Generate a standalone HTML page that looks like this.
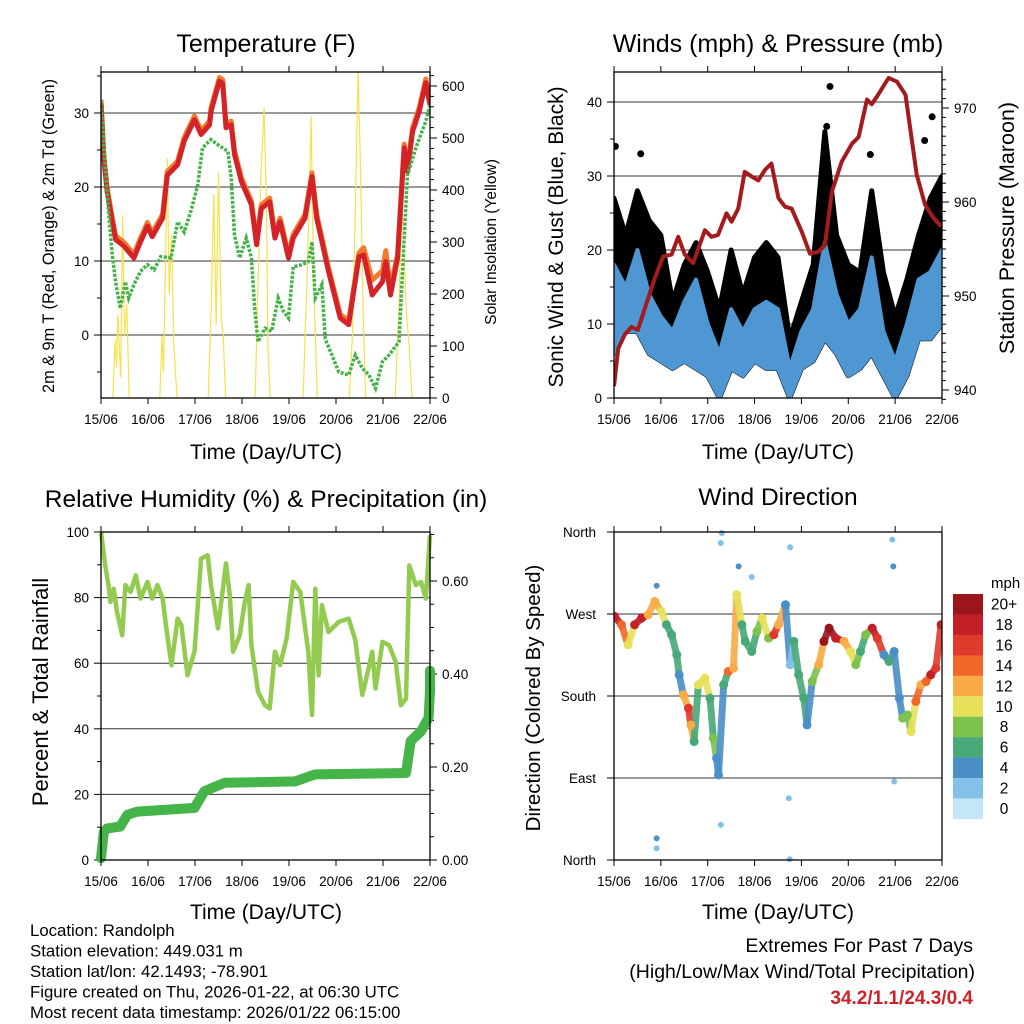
<!DOCTYPE html>
<html><head><meta charset="utf-8"><style>
html,body{margin:0;padding:0;background:#fff;}
svg{display:block;font-family:"Liberation Sans",sans-serif;}
</style></head><body>
<svg id="c" width="1024" height="1024" viewBox="0 0 1024 1024"></svg>
<script>
// ---------- DATA ----------
const dayLabels = ["15/06","16/06","17/06","18/06","19/06","20/06","21/06","22/06"];
// Temperature
const tDays = [0,.06,.13,.24,.31,.49,.70,.84,.99,1.09,1.31,1.41,1.63,1.77,1.99,2.13,2.31,2.34,2.52,2.59,2.66,2.77,2.84,2.99,3.20,3.31,3.41,3.59,3.70,3.81,3.99,4.09,4.34,4.49,4.59,4.84,5.09,5.27,5.49,5.59,5.77,5.99,6.06,6.16,6.31,6.45,6.52,6.63,6.77,6.91,7.0];
const temp2m = [31.3,23.9,19.4,15.3,12.9,12,10.4,12.6,14.7,13.3,15.8,21.6,23,26.2,29.1,27.1,28.4,30.2,34.3,34,28,28.4,24.4,20.7,17.6,12.2,17.1,18,13.1,15.3,10.4,13.1,15.8,21.4,15.8,8.6,2.3,1.4,10.6,10.8,5.4,7.2,9.9,5.4,10.4,25.3,22.1,27.5,30.2,34.1,31.1];
const temp9m = [31.8,24.4,19.9,15.8,13.4,12.5,10.9,13.1,15.2,13.8,16.3,22.1,23.5,26.7,29.6,27.6,28.9,30.7,34.8,34.5,28.5,28.9,24.9,21.2,18.1,12.7,17.6,18.5,13.6,15.8,10.9,13.6,16.3,21.9,16.3,9.1,2.8,1.9,11.1,11.8,7.4,8.7,11.4,6.4,10.9,25.8,22.6,28,30.7,34.6,31.6];
const tdDays = [0,.09,.16,.24,.31,.41,.52,.59,.70,.84,.99,1.13,1.27,1.49,1.63,1.77,1.91,2.06,2.16,2.34,2.49,2.70,2.77,2.84,2.95,3.09,3.20,3.27,3.34,3.49,3.63,3.77,3.88,3.99,4.09,4.27,4.41,4.49,4.56,4.70,4.77,5.06,5.27,5.41,5.56,5.70,5.84,5.99,6.13,6.34,6.52,6.70,6.91,7.0];
const dewpt = [31.3,23,16.7,10.8,7.2,3.6,7.2,5,6.8,8.6,9.5,8.8,10.6,10.4,15.3,13.9,16.7,20.3,25.3,26.4,25.7,24.8,21.2,13.5,10.4,13.1,10.4,3.6,-0.9,0.9,0.5,5,3.2,2.3,9.2,9.5,9.9,12.6,5,6.8,-0.5,-5,-5.4,-2.7,-4.5,-5.4,-7.2,-3.6,-2.7,-0.9,21.6,25.3,28.9,31.1];
const solarDays = [0,.25,.3,.33,.36,.42,.46,.5,.55,.6,1.25,1.3,1.33,1.41,1.45,1.5,1.55,1.62,2.28,2.35,2.4,2.45,2.5,2.56,2.6,2.65,3.28,3.33,3.4,3.47,3.52,3.55,3.6,4.3,4.38,4.44,4.47,4.52,4.6,5.28,5.35,5.42,5.47,5.52,5.58,5.63,6.26,6.33,6.4,6.5,6.55,6.62,7];
const solar = [0,0,110,60,160,40,352,120,180,0,0,120,50,461,200,314,100,0,0,180,392,140,433,150,120,0,0,180,420,558,380,100,0,0,220,420,542,250,0,0,120,400,628,450,150,0,0,150,380,160,110,0,0];
// Winds
const wDays = [0,.25,.5,.75,1,1.25,1.5,1.75,2,2.25,2.5,2.75,3,3.25,3.5,3.75,4,4.25,4.5,4.75,5,5.25,5.5,5.75,6,6.25,6.5,6.75,7];
const windLow = [6,9,9,6,5,4,5,4,3,0,4,3,5,4,4,0,4,5,8,6,3,4,6,3,0,3,8,8,10];
const windHigh = [18,15,20,14,11,9,13,16,10,6,12,9,12,13,12,4,9,12,21,14,10,12,19,9,5,10,16,17,20];
const gustHigh = [27,22,28,24,22,13,18,21,17,12,20,14,19,21,19,8,13,18,36,22,18,17,28,17,11,16,22,27,30];
const gustOutDays = [0.03,0.57,4.54,4.61,5.47,6.63,6.79];
const gustOut = [34,33,36.7,42.1,32.9,34.8,38];
const pDays = [0,.09,.23,.37,.51,.66,.87,1.05,1.23,1.37,1.51,1.69,1.94,2.08,2.22,2.40,2.51,2.65,2.79,2.94,3.08,3.22,3.36,3.51,3.65,3.79,4.01,4.18,4.36,4.50,4.65,4.86,5.08,5.22,5.40,5.50,5.61,5.86,6.04,6.22,6.46,6.64,6.82,6.98];
const pressure = [940.4,944.4,945.9,946.7,946.4,948.7,951.9,954.2,954.4,956.3,954.4,953.5,957,956.3,956.5,958.8,957.9,959.3,963.2,962.7,962.3,963.4,964.1,960.4,959.5,959.3,956.8,954.5,954.7,955.4,961.1,964.3,966.2,966.9,970.9,970.4,971.2,973.2,972.8,971.4,962.9,959.7,958.3,957.4];
// RH & precip
const rhDays = [0,.09,.16,.2,.27,.34,.45,.52,.63,.74,.84,.99,1.09,1.2,1.31,1.41,1.5,1.63,1.71,1.84,1.99,2.13,2.27,2.34,2.49,2.66,2.74,2.81,2.95,3.06,3.14,3.2,3.34,3.49,3.59,3.70,3.81,3.95,4.09,4.24,4.41,4.49,4.56,4.63,4.70,4.84,5.06,5.27,5.41,5.56,5.66,5.77,5.84,5.99,6.13,6.27,6.38,6.49,6.56,6.70,6.81,6.91,7.0];
const rh = [100,89.8,83.8,78.7,82.7,75.6,68.5,83.8,81.7,86.8,79.7,84.8,79.7,83.8,79.7,68.5,59.4,73.6,71.6,56.3,63.5,91.9,92.9,83.8,70.6,90.4,80.7,63.5,68.5,78.7,83.8,65.5,51.3,47.2,46.2,63.5,59.4,67.5,84.8,81.7,63.5,44.2,82.7,56.3,77.7,69.5,72.6,73.6,67,50.3,56.3,63.5,52.3,66.5,65.5,60.4,47.2,49.2,89.8,83.8,84.8,79.7,99];
const prDays = [0,.06,.13,.41,.56,.77,1.99,2.2,2.63,4.13,4.56,6.49,6.59,6.81,6.97,7.0,7.0];
const precip = [0.004,0.06,0.068,0.072,0.097,0.104,0.112,0.148,0.166,0.169,0.184,0.187,0.256,0.277,0.306,0.364,0.407];
// Wind direction
const dDays = [.01,.16,.30,.44,.59,.73,.87,1.01,1.12,1.23,1.34,1.39,1.48,1.59,1.64,1.71,1.80,1.94,2.05,2.12,2.19,2.23,2.34,2.44,2.55,2.62,2.73,2.80,2.94,3.05,3.16,3.30,3.41,3.51,3.66,3.76,3.84,3.94,4.05,4.12,4.23,4.37,4.48,4.59,4.73,4.91,5.05,5.16,5.26,5.37,5.51,5.62,5.76,5.87,5.98,6.09,6.16,6.26,6.34,6.44,6.55,6.66,6.76,6.87,6.98];
const dirDeg = [267.4,258.2,236.2,258.2,265.5,269.2,283.8,272.8,258.2,247.2,225.2,203.3,181.3,166.6,148.3,130,192.3,199.6,177.6,133.7,111.7,93.4,192.3,206.9,210.6,291.2,258.2,239.9,228.9,250.9,265.5,243.5,247.2,258.2,280.2,214.3,239.9,203.3,177.6,148.3,195.9,214.3,239.9,254.5,243.5,239.9,228.9,214.3,228.9,247.2,254.5,243.5,225.2,217.9,228.9,177.6,155.7,159.3,141,174,192.3,195.9,203.3,210.6,258.2];
const dirSpd = [18,14,10,18,18,12,12,10,6,6,5,4,12,16,12,6,10,10,6,8,4,4,6,14,12,10,6,6,6,8,10,8,16,12,4,2,6,6,6,4,8,12,20,20,18,12,10,8,6,8,18,16,4,6,4,4,8,8,10,14,12,14,18,16,18];
const outDays = [2.3,2.28,3.76,5.94,5.96,5.98,3.73,2.28,.91,.91,3.75,2.66,2.94,.91];
const outDeg = [358.9,347.9,343.2,351.6,322.3,86.1,67.8,38.5,23.8,12.8,0.8,322.3,310.6,301];
const outSpd = [1,1,1,1,3,1,1,1,3,1,1,4,2,3];
const cbLabels = ["20+","18","16","14","12","10","8","6","4","2","0"];
const cbColors = ["#9a161b","#c21f28","#df3a2b","#f1672a","#f8ab47","#e6e05a","#7cc24d","#48a877","#4a8fc7","#84c1e9","#c3e7f8"];

// ---------- HELPERS ----------
const NS="http://www.w3.org/2000/svg";
const svg=document.getElementById('c');
function mk(tag,attrs,parent){const e=document.createElementNS(NS,tag);for(const k in attrs)e.setAttribute(k,attrs[k]);(parent||svg).appendChild(e);return e;}
function txt(s,x,y,size,anchor,parent,extra){const e=mk('text',Object.assign({x:x,y:y,'font-size':size,'text-anchor':anchor||'middle',fill:'#000'},extra||{}),parent);e.textContent=s;return e;}
function colorFor(s){let i=Math.min(10,Math.max(0,Math.round(s/2)));return cbColors[10-i];}
function path(xs,ys,fx,fy){return xs.map((d,i)=>(i?'L':'M')+fx(d).toFixed(1)+','+fy(ys[i]).toFixed(1)).join('');}

function frame(g,x0,x1,y0,y1,name){
  for(let d=0;d<=7;d++){const x=x0+(x1-x0)*d/7;
    mk('line',{x1:x,y1:y0,x2:x,y2:y0-6,stroke:'#000','stroke-width':1},g);
    mk('line',{x1:x,y1:y1,x2:x,y2:y1+6,stroke:'#000','stroke-width':1},g);
    const t=txt(dayLabels[d],x,y1+26,13.5,'middle',g);
    
    
  }
  const r=mk('rect',{x:x0,y:y0,width:x1-x0,height:y1-y0,fill:'none',stroke:'#000','stroke-width':1.3},g);
  
  
}
function hgrid(g,x0,x1,y){mk('line',{x1:x0,y1:y,x2:x1,y2:y,stroke:'#333','stroke-width':1},g);}
function ytick(g,x,y,dir,len){mk('line',{x1:x,y1:y,x2:x+dir*len,y2:y,stroke:'#000','stroke-width':1},g);}

// ================= PANEL 1: Temperature =================
{
const g=mk('g',{});


const X0=101,X1=430,Y0=72,Y1=398;
const x=d=>X0+(X1-X0)*d/7, y=t=>335-t*7.4, ys=v=>398-v*0.52;
const cp=mk('clipPath',{id:'cp1'},g);mk('rect',{x:X0,y:Y0,width:X1-X0,height:Y1-Y0},cp);
for(const v of [0,10,20,30]){hgrid(g,X0,X1,y(v));ytick(g,X0,y(v),-1,7);const t=txt(String(v),X0-12,y(v)+5,13.5,'end',g);}
for(const v of [-5,5,15,25,35])ytick(g,X0,y(v),-1,4);
for(let v=0;v<=620;v+=20)ytick(g,X1,ys(v),1,v%100?4:7);
for(let v=0;v<=600;v+=100){const t=txt(String(v),X1+12,ys(v)+5,13.5,'start',g);}
const pg=mk('g',{'clip-path':'url(#cp1)'},g);
const s=mk('path',{d:path(solarDays,solar,x,ys),fill:'none',stroke:'#f9e04c','stroke-width':1.2},pg);

const o=mk('path',{d:path(tDays,temp9m,x,y),fill:'none',stroke:'#f07a2e','stroke-width':5,'stroke-linejoin':'round'},pg);

const r=mk('path',{d:path(tDays,temp2m,x,y),fill:'none',stroke:'#d42328','stroke-width':5,'stroke-linejoin':'round'},pg);

const gr=mk('path',{d:path(tdDays,dewpt,x,y),fill:'none',stroke:'#46b34a','stroke-width':3.5,'stroke-dasharray':'3 1.5'},pg);

frame(g,X0,X1,Y0,Y1,'temperature');
const t1=txt('Temperature (F)',266,52,25,'middle',g);
const t2=txt('Time (Day/UTC)',266,459,21,'middle',g);
const t3=txt('2m & 9m T (Red, Orange) & 2m Td (Green)',0,0,16.3,'middle',g,{transform:'translate(54,236) rotate(-90)'});
const t4=txt('Solar Insolation (Yellow)',0,0,15.5,'middle',g,{transform:'translate(496,242) rotate(-90)'});
}

// ================= PANEL 2: Winds =================
{
const g=mk('g',{});


const X0=614,X1=942,Y0=72,Y1=398;
const x=d=>X0+(X1-X0)*d/7, y=w=>398-w*7.4, yp=p=>390-(p-940)*9.4;
const cp=mk('clipPath',{id:'cp2'},g);mk('rect',{x:X0,y:Y0,width:X1-X0,height:Y1-Y0},cp);
for(const v of [0,10,20,30,40]){if(v)hgrid(g,X0,X1,y(v));ytick(g,X0,y(v),-1,7);const t=txt(String(v),X0-12,y(v)+5,13.5,'end',g);}
for(const v of [5,15,25,35])ytick(g,X0,y(v),-1,4);
for(let v=939;v<=973;v++)ytick(g,X1,yp(v),1,v%10?4:7);
for(const v of [940,950,960,970]){const t=txt(String(v),X1+12,yp(v)+5,13.5,'start',g);}
const pg=mk('g',{'clip-path':'url(#cp2)'},g);
let gd=wDays.map((d,i)=>(i?'L':'M')+x(d)+','+y(gustHigh[i])).join('')+wDays.slice().reverse().map((d,j)=>{const i=wDays.length-1-j;return 'L'+x(d)+','+y(windLow[i]);}).join('')+'Z';
const ga=mk('path',{d:gd,fill:'#000',stroke:'#000','stroke-width':5,'stroke-linejoin':'round'},pg);

gustOutDays.forEach((d,i)=>{const c=mk('circle',{cx:x(d),cy:y(gustOut[i]),r:3.5,fill:'#000'},pg);
 
 });
let bd=wDays.map((d,i)=>(i?'L':'M')+x(d)+','+y(windHigh[i])).join('')+wDays.slice().reverse().map((d,j)=>{const i=wDays.length-1-j;return 'L'+x(d)+','+y(windLow[i]);}).join('')+'Z';
const ba=mk('path',{d:bd,fill:'#4f97d2',stroke:'#4f97d2','stroke-width':4,'stroke-linejoin':'round'},pg);

const pl=mk('path',{d:path(pDays,pressure,x,yp),fill:'none',stroke:'#a31b1d','stroke-width':4,'stroke-linejoin':'round'},pg);

frame(g,X0,X1,Y0,Y1,'winds');
const t1=txt('Winds (mph) & Pressure (mb)',778,52,25,'middle',g);
const t2=txt('Time (Day/UTC)',778,459,21,'middle',g);
const t3=txt('Sonic Wind & Gust (Blue, Black)',0,0,21,'middle',g,{transform:'translate(563,237) rotate(-90)'});
const t4=txt('Station Pressure (Maroon)',0,0,21.5,'middle',g,{transform:'translate(1014,228) rotate(-90)'});
}

// ================= PANEL 3: RH & Precip =================
{
const g=mk('g',{});


const X0=101,X1=430,Y0=532,Y1=860;
const x=d=>X0+(X1-X0)*d/7, y=v=>860-v*3.28, yp=v=>860-v*465;
const cp=mk('clipPath',{id:'cp3'},g);mk('rect',{x:X0-6,y:Y0-6,width:X1-X0+12,height:Y1-Y0+12},cp);
for(const v of [0,20,40,60,80,100]){if(v&&v<100)hgrid(g,X0,X1,y(v));ytick(g,X0,y(v),-1,7);const t=txt(String(v),X0-12,y(v)+5,13.5,'end',g);}
for(const v of [10,30,50,70,90])ytick(g,X0,y(v),-1,4);
for(let v=0;v<=0.7001;v+=0.05)ytick(g,X1,yp(v),1,Math.round(v*100)%20?4:7);
for(const v of [0,0.2,0.4,0.6]){const t=txt(v.toFixed(2),X1+12,yp(v)+5,13.5,'start',g);}
const pg=mk('g',{'clip-path':'url(#cp3)'},g);
const rl=mk('path',{d:path(rhDays,rh,x,y),fill:'none',stroke:'#92cb50','stroke-width':4.5,'stroke-linejoin':'round'},pg);

const pr=mk('path',{d:path(prDays,precip,x,yp),fill:'none',stroke:'#45b549','stroke-width':10,'stroke-linejoin':'round','stroke-linecap':'round'},pg);

frame(g,X0,X1,Y0,Y1,'humidity');
const t1=txt('Relative Humidity (%) & Precipitation (in)',266,507,24.5,'middle',g);
const t2=txt('Time (Day/UTC)',266,919,21,'middle',g);
const t3=txt('Percent & Total Rainfall',0,0,22,'middle',g,{transform:'translate(48,692) rotate(-90)'});
}

// ================= PANEL 4: Wind direction =================
{
const g=mk('g',{});


const X0=614,X1=942,Y0=532,Y1=860;
const x=d=>X0+(X1-X0)*d/7, y=deg=>532+(360-deg)/360*328;
const names=["North","West","South","East","North"];
[360,270,180,90,0].forEach((v,i)=>{if(i&&i<4)hgrid(g,X0,X1,y(v));ytick(g,X0,y(v),-1,7);const t=txt(names[i],X0-18,y(v)+5,13.5,'end',g);});
const cp=mk('clipPath',{id:'cp4'},g);mk('rect',{x:X0,y:Y0-2,width:X1-X0,height:Y1-Y0+4},cp);
const pg=mk('g',{'clip-path':'url(#cp4)'},g);
for(let i=0;i<dDays.length-1;i++){
  const l=mk('line',{x1:x(dDays[i]),y1:y(dirDeg[i]),x2:x(dDays[i+1]),y2:y(dirDeg[i+1]),stroke:colorFor(dirSpd[i]),'stroke-width':7,'stroke-linecap':'round',opacity:0.9},pg);
  
  
}
dDays.forEach((d,i)=>{const c=mk('circle',{cx:x(d),cy:y(dirDeg[i]),r:4.5,fill:colorFor(dirSpd[i])},pg);
  
  });
outDays.forEach((d,i)=>{const c=mk('circle',{cx:x(d),cy:y(outDeg[i]),r:3,fill:colorFor(outSpd[i])},pg);
  
  });
frame(g,X0,X1,Y0,Y1,'wind-direction');
const t1=txt('Wind Direction',778,505,24.5,'middle',g);
const t2=txt('Time (Day/UTC)',778,919,21,'middle',g);
const t3=txt('Direction (Colored By Speed)',0,0,20.5,'middle',g,{transform:'translate(540,698) rotate(-90)'});
const cb=mk('g',{},g);


const u=txt('mph',991,588,15,'start',cb);
cbLabels.forEach((lab,i)=>{const top=594+i*20.45;
  const r=mk('rect',{x:953,y:top,width:30,height:20.6,fill:cbColors[i]},cb);
  
  
  const t=txt(lab,1004,top+15.5,15.5,'middle',cb);
  
  
});
}

// ================= FOOTER =================
{
const g=mk('g',{});


const lines=["Location: Randolph","Station elevation: 449.031 m","Station lat/lon: 42.1493; -78.901","Figure created on Thu, 2026-01-22, at 06:30 UTC","Most recent data timestamp: 2026/01/22 06:15:00"];
lines.forEach((s,i)=>{const t=txt(s,30,936+i*20.5,16.8,'start',g);});
const e=mk('g',{});


const a=txt('Extremes For Past 7 Days',973,952,19.5,'end',e);
const b=txt('(High/Low/Max Wind/Total Precipitation)',975,978,19.5,'end',e);
const c=txt('34.2/1.1/24.3/0.4',973,1004,19,'end',e,{fill:'#cc2229','font-weight':'bold'});
}
</script>
</body></html>
